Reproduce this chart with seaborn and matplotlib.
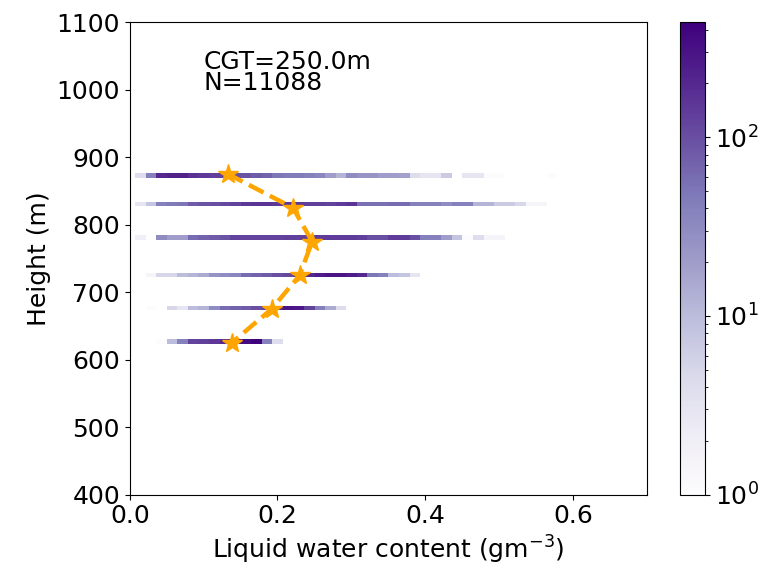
import numpy as np
import matplotlib
matplotlib.use("Agg")
import matplotlib.pyplot as plt
import seaborn as sns
from matplotlib.colors import LogNorm

plt.rcParams.update({'font.size': 18, 'font.family': 'DejaVu Sans'})

# LWC bin width (g m^-3); bin k is centred on k * LWC_STEP
LWC_STEP = 0.0143

# height of each band (m) and the counts per LWC bin, starting at bin 1
band_heights = [872, 828, 778, 726, 677, 628]
counts_875 = [4, 40, 200, 230, 230, 170, 150, 130, 120, 100, 90, 80, 70, 50, 45, 45, 40, 35, 20, 12,
              30, 25, 25, 20, 20, 18, 4, 3, 3, 7, 0, 3, 3, 1, 1, 0, 0, 0, 0, 1]
counts_825 = [3, 8, 40, 45, 50, 80, 90, 100, 110, 120, 150, 160, 160, 150, 150, 150, 130, 130, 120, 140,
              160, 55, 55, 55, 60, 60, 40, 40, 40, 30, 40, 40, 12, 12, 7, 7, 5, 1.5, 1.5]
counts_775 = [2, 0, 30, 20, 20, 60, 70, 80, 90, 120, 120, 120, 125, 125, 130, 130, 130, 140, 140, 140,
              140, 130, 100, 100, 140, 140, 100, 40, 40, 20, 8, 1, 4, 1.5, 1.5]
counts_725 = [0, 1.5, 5, 5, 10, 12, 15, 25, 30, 35, 60, 70, 80, 100, 110, 150, 200, 250, 300, 300,
              250, 200, 50, 40, 10, 8, 3]
counts_675 = [0, 1, 0, 5, 3, 10, 12, 30, 60, 70, 80, 100, 120, 200, 300, 280, 120, 40, 15, 4]
counts_625 = [0, 0, 1, 10, 40, 120, 130, 150, 200, 250, 350, 440, 40, 4]
band_counts = [counts_875, counts_825, counts_775, counts_725, counts_675, counts_625]

# mean LWC profile
mean_lwc = [0.133, 0.221, 0.247, 0.230, 0.192, 0.138]
mean_height = [875, 825, 775, 725, 675, 625]

lwc, hgt, wts = [], [], []
for h, c in zip(band_heights, band_counts):
    for k, n in enumerate(c, start=1):
        if n > 0:
            lwc.append(k * LWC_STEP)
            hgt.append(h)
            wts.append(n)

x_edges = LWC_STEP * (np.arange(0, 52) + 0.5)
y_edges = np.linspace(400, 1100, 101)

fig = plt.figure(figsize=(7.68, 5.68), dpi=100)
ax = fig.add_axes([0.169, 0.129, 0.673, 0.832])
cax = fig.add_axes([0.885, 0.129, 0.033, 0.832])

sns.histplot(x=lwc, y=hgt, weights=wts, bins=[x_edges, y_edges], cmap="Purples",
             vmin=1, vmax=440, cbar=False, ax=ax)
mesh = ax.collections[0]
mesh.set_norm(LogNorm(vmin=1, vmax=440))
fig.colorbar(mesh, cax=cax)

ax.plot(mean_lwc, mean_height, color="orange", linestyle="--", linewidth=3.2,
        marker="*", markersize=15)

ax.text(0.1, 1000, "CGT=250.0m\nN=11088", linespacing=0.85)
ax.set_xlim(0, 0.7)
ax.set_ylim(400, 1100)
ax.set_xticks([0.0, 0.2, 0.4, 0.6])
ax.set_yticks(np.arange(400, 1101, 100))
ax.set_xlabel("Liquid water content (gm$^{-3}$)", labelpad=4)
ax.set_ylabel("Height (m)")

plt.savefig("out.png", dpi=100)
